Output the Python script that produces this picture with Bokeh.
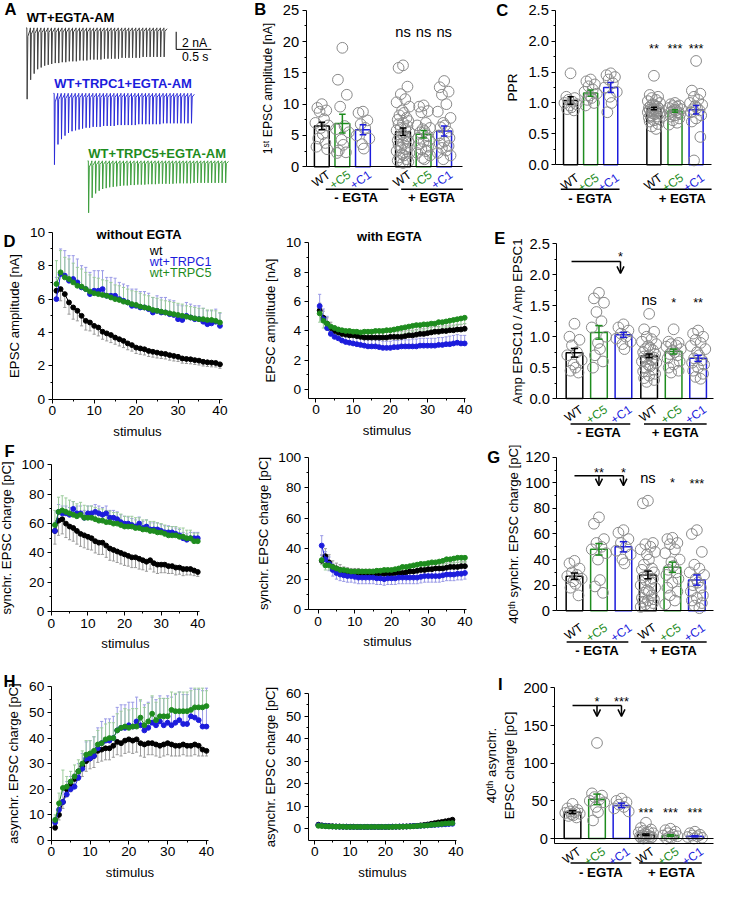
import numpy as np
from bokeh.plotting import figure
from bokeh.models import Range1d, Label, Arrow, OpenHead, FixedTicker, PrintfTickFormatter
from bokeh.layouts import column, row
from bokeh.embed import file_html
from bokeh.resources import INLINE

# ------------------------------------------------------------------ data
# Panel A: example traces, EPSC peak amplitudes (nA) for 40 stimuli at 20 Hz
TRACE_WT = [8.1, 5.9, 5.2, 4.7, 4.5, 4.3, 4.2, 4.1, 4.0, 4.0, 3.9, 3.9, 3.8, 3.8, 3.8, 3.7, 3.7, 3.7, 3.6, 3.6,
            3.6, 3.6, 3.5, 3.5, 3.5, 3.5, 3.5, 3.4, 3.4, 3.4, 3.4, 3.4, 3.4, 3.3, 3.3, 3.3, 3.3, 3.3, 3.3, 3.3]
TRACE_C1 = [8.1, 5.8, 5.2, 4.8, 4.5, 4.3, 4.2, 4.1, 4.0, 3.9, 3.9, 3.8, 3.8, 3.8, 3.7, 3.7, 3.7, 3.7, 3.6, 3.6,
            3.6, 3.6, 3.6, 3.6, 3.5, 3.5, 3.5, 3.5, 3.5, 3.5, 3.5, 3.4, 3.4, 3.4, 3.4, 3.4, 3.4, 3.4, 3.4, 3.4]
TRACE_C5 = [5.9, 4.2, 3.7, 3.4, 3.2, 3.1, 3.0, 2.95, 2.9, 2.85, 2.8, 2.8, 2.75, 2.75, 2.7, 2.7, 2.7, 2.65, 2.65, 2.65,
            2.6, 2.6, 2.6, 2.6, 2.6, 2.55, 2.55, 2.55, 2.55, 2.55, 2.5, 2.5, 2.5, 2.5, 2.5, 2.5, 2.5, 2.5, 2.5, 2.5]
TRACE_NAMES = ["WT+EGTA-AM", "WT+TRPC1+EGTA-AM", "WT+TRPC5+EGTA-AM"]
ISI = 0.05          # s between stimuli
SCALE_NA = 2.0      # scale bar
SCALE_S = 0.5

# Panel D: EPSC amplitude [nA]
DL_WT = [6.5, 6.6, 6.3, 5.8, 5.5, 5.3, 5.0, 4.7, 4.6, 4.4, 4.3, 4.05, 3.95, 3.85, 3.7, 3.6, 3.5, 3.35, 3.25, 3.1,
         3.05, 3.0, 2.9, 2.85, 2.8, 2.75, 2.72, 2.65, 2.6, 2.55, 2.45, 2.42, 2.4, 2.35, 2.32, 2.25, 2.22, 2.2, 2.18, 2.1]
DL_WT_E = [0.5, 0.7, 0.8, 0.7, 0.7, 0.6, 0.6, 0.55, 0.5, 0.5, 0.5, 0.45, 0.45, 0.45, 0.4, 0.4, 0.4, 0.38, 0.36, 0.35,
           0.35, 0.34, 0.33, 0.32, 0.32, 0.3, 0.3, 0.3, 0.3, 0.28, 0.28, 0.27, 0.27, 0.26, 0.26, 0.25, 0.25, 0.25, 0.24, 0.24]
DL_C1 = [6.0, 7.5, 7.4, 7.1, 7.2, 7.0, 6.7, 6.6, 6.3, 6.5, 6.5, 6.6, 6.2, 6.2, 6.2, 6.0, 5.9, 5.8, 5.6, 5.6,
         5.5, 5.5, 5.4, 5.2, 5.3, 5.2, 5.2, 5.1, 5.05, 4.8, 4.75, 5.0, 4.9, 4.8, 4.8, 4.65, 4.5, 4.55, 4.65, 4.4]
DL_C1_E = [1.3, 1.5, 1.5, 1.5, 1.4, 1.4, 1.3, 1.3, 1.3, 1.2, 1.2, 1.1, 1.1, 1.1, 1.05, 1.0, 1.0, 1.0, 1.0, 1.0,
           0.95, 0.95, 0.95, 0.9, 0.9, 0.9, 0.9, 0.85, 0.85, 0.85, 0.85, 0.8, 0.8, 0.8, 0.8, 0.8, 0.8, 0.75, 0.75, 0.75]
DL_C5 = [6.9, 7.6, 7.3, 7.2, 7.0, 6.8, 6.75, 6.6, 6.45, 6.35, 6.3, 6.25, 6.2, 6.1, 6.0, 5.95, 5.85, 5.8, 5.7, 5.65,
         5.55, 5.5, 5.45, 5.35, 5.3, 5.25, 5.2, 5.15, 5.1, 5.05, 5.0, 4.95, 4.9, 4.85, 4.8, 4.8, 4.75, 4.75, 4.7, 4.6]
DL_C5_E = [1.4, 1.3, 1.2, 1.2, 1.15, 1.1, 1.05, 1.0, 1.0, 0.95, 0.95, 0.9, 0.9, 0.9, 0.85, 0.85, 0.85, 0.8, 0.8, 0.8,
           0.8, 0.75, 0.75, 0.75, 0.75, 0.7, 0.7, 0.7, 0.7, 0.7, 0.7, 0.65, 0.65, 0.65, 0.65, 0.65, 0.6, 0.6, 0.6, 0.6]

DR_WT = [5.4, 4.9, 4.5, 4.2, 4.0, 3.9, 3.8, 3.75, 3.7, 3.7, 3.65, 3.6, 3.55, 3.55, 3.55, 3.55, 3.55, 3.55, 3.55, 3.6,
         3.6, 3.6, 3.6, 3.65, 3.7, 3.7, 3.75, 3.8, 3.8, 3.85, 3.9, 3.95, 3.95, 4.0, 4.0, 4.05, 4.05, 4.1, 4.1, 4.15]
DR_WT_E = [0.5, 0.45, 0.4, 0.4] + [0.35] * 36
DR_C1 = [5.7, 4.8, 4.2, 3.8, 3.6, 3.5, 3.35, 3.25, 3.2, 3.15, 3.1, 3.05, 3.0, 2.95, 2.95, 2.95, 2.9, 2.85, 2.85, 2.85,
         2.9, 2.9, 2.95, 2.95, 2.95, 2.95, 2.95, 3.0, 3.0, 3.0, 3.0, 3.0, 3.05, 3.05, 3.1, 3.1, 3.15, 3.2, 3.15, 3.15]
DR_C1_E = [0.8, 0.7, 0.8, 0.6, 0.55, 0.5, 0.5, 0.45, 0.45, 0.45, 0.45, 0.45, 0.45, 0.45, 0.45, 0.45, 0.45, 0.45, 0.45, 0.45,
           0.45, 0.45, 0.45, 0.45, 0.45, 0.5, 0.5, 0.5, 0.5, 0.5, 0.5, 0.5, 0.5, 0.5, 0.5, 0.55, 0.55, 0.55, 0.55, 0.55]
DR_C5 = [5.2, 4.7, 4.5, 4.3, 4.2, 4.1, 4.05, 4.0, 4.0, 3.95, 3.95, 3.9, 3.95, 3.95, 3.95, 4.0, 4.0, 4.0, 4.05, 4.05,
         4.1, 4.15, 4.2, 4.25, 4.3, 4.35, 4.4, 4.4, 4.45, 4.45, 4.5, 4.5, 4.6, 4.6, 4.65, 4.7, 4.75, 4.8, 4.85, 4.9]
DR_C5_E = [0.6, 0.5, 0.45] + [0.4] * 37

# Panel F: synchronous EPSC charge [pC]
FL_WT = [55, 62, 63, 60, 58, 57, 55, 53, 52, 51, 50, 48, 47, 47, 45, 43, 42, 41, 40, 39,
         38, 37, 37, 36, 35, 34, 35, 33, 32, 32, 32, 31, 31, 30, 30, 29, 29, 29, 28, 27]
FL_WT_E = [9, 10, 10, 9.5, 9, 9, 9, 8.5, 8.5, 8.5, 8, 8, 8, 8, 8, 8, 7.5, 7.5, 7.5, 7.5,
           7, 7, 7, 7, 6.5, 6.5, 6, 6, 6, 5.5, 5.5, 5, 5, 5, 4.5, 4.5, 4, 4, 3.5, 3]
FL_C1 = [55, 68, 67, 67, 66, 70, 67, 67, 64, 67, 67, 68, 67, 66, 67, 64, 64, 63, 61, 60,
         60, 59, 58, 60, 57, 58, 56, 56, 56, 55, 54, 54, 54, 53, 52, 50, 49, 50, 50, 50]
FL_C1_E = [6] + [5] * 19 + [4.5] * 12 + [4] * 8
FL_C5 = [59, 68, 69, 68, 67, 66, 65, 66, 64, 64, 64, 63, 62, 62, 61, 61, 60, 60, 59, 58,
         58, 58, 57, 57, 56, 56, 55, 55, 54, 54, 53, 52, 52, 52, 51, 51, 50, 50, 48, 48]
FL_C5_E = [10, 10, 10, 9.5, 9, 9, 8.5, 8.5, 8.5, 8, 8, 8, 8, 8, 8, 7.5, 7.5, 7.5, 7.5, 7,
           7, 7, 7, 7, 6.5, 6.5, 6.5, 6.5, 6.5, 6, 6, 6, 6, 6, 6, 6, 5.5, 5.5, 5.5, 5.5]

FR_WT = [32, 35, 31, 28, 27, 26, 25, 24.5, 24, 24, 24, 23.5, 23.5, 23.5, 23.5, 23.5, 23.5, 23.5, 23.5, 23.5,
         24, 24, 24, 24.5, 25, 25, 25.5, 26, 26, 26.5, 26.5, 27, 27, 27, 27.5, 28, 28, 28, 28.5, 28.5]
FR_WT_E = [4, 5, 5, 4, 3.5, 3.5] + [3] * 34
FR_C1 = [42, 33, 30, 26, 24, 23, 22.5, 22, 22, 21.5, 21, 21, 21, 21, 21, 20.5, 20.5, 20, 20.5, 20.5,
         20.5, 21, 21, 21, 21, 21, 21, 21.5, 22, 22, 22, 22, 22, 22.5, 23, 23, 23, 23.5, 23.5, 24]
FR_C1_E = [6.5, 5, 4.5] + [4] * 37
FR_C5 = [32.5, 29, 29, 28, 27, 26, 26, 25.5, 25, 25, 25, 25, 25, 25, 25, 25.5, 25.5, 26, 26, 26,
         26.5, 27, 28, 28, 28.5, 29, 29.5, 30, 30, 30.5, 31, 31, 31.5, 32, 33, 33, 33.5, 34, 34, 34]
FR_C5_E = [3] * 40

# Panel H: asynchronous EPSC charge [pC]
HL_WT = [5, 10, 15, 20, 22, 24, 27, 29, 31, 32, 33, 35, 35.5, 36, 36, 37, 38.5, 38, 39, 39.5,
         39, 39.5, 38, 37.5, 38, 38, 37.5, 37, 37.5, 38, 37.5, 37, 37, 37.5, 37, 37, 37.5, 37, 35.5, 35]
HL_WT_E = [1, 2, 2.5, 3, 3, 3, 3.5, 4, 4, 4, 4.5, 4.5, 4.5, 4.5, 4.5, 4.5, 5, 5, 5, 5,
           5, 5, 5, 5, 4.5, 4.5, 4.5, 4.5, 4.5, 4.5, 4.5, 4, 4, 4, 4, 4, 4, 4, 2.5, 2]
HL_C1 = [7, 12, 15, 18, 20, 21, 24.5, 28, 32, 32, 33, 36, 38, 39, 39, 40, 43, 44, 44, 45,
         44.5, 46.5, 45, 43, 44, 46, 45, 46.5, 45, 46, 45, 46, 47, 45.5, 45.5, 48.5, 48, 47, 44.5, 44.5]
HL_C1_E = [2, 3, 4, 5, 5, 5, 5.5, 6, 6.5, 7, 7.5, 8, 8.5, 8.5, 8.5, 8.5, 9, 9, 9, 9,
           9.5, 9.5, 9.5, 10, 10, 10, 10, 10, 10.5, 10.5, 11, 11, 11, 11.5, 11.5, 11, 11, 12, 14, 15]
HL_C5 = [8, 14.5, 20.5, 21, 23, 25, 27, 30, 33.5, 34, 35, 37.5, 38, 39.5, 40, 40, 43, 44, 44.5, 44,
         44.5, 44.5, 48, 45, 46.5, 49.5, 47, 48.5, 48.5, 48.5, 51, 50.5, 50.5, 50.5, 50.5, 51, 52, 52, 52, 52.5]
HL_C5_E = [2, 4, 7, 4, 4, 4.5, 4.5, 5, 5.5, 5, 5.5, 5.5, 6, 6, 6, 6, 6.5, 6.5, 7, 7,
           7, 7, 7, 7, 7, 7, 7, 7, 7, 7, 7, 7, 7.5, 7.5, 7.5, 7.5, 7.5, 7.5, 7.5, 6]

HR_WT = [1.8, 1.5, 1.3, 1.2, 1.1, 1.0, 1.0, 0.9, 0.9, 0.9, 0.9, 0.8, 0.8, 0.8, 0.8, 0.8, 0.8, 0.8, 0.8, 0.8,
         0.8, 0.9, 0.9, 0.9, 1.0, 1.0, 1.1, 1.2, 1.3, 1.5, 1.7, 1.9, 2.2, 2.5, 2.8, 3.0, 3.3, 3.6, 4.0]
HR_C1 = [1.6, 1.4, 1.2, 1.1, 1.0, 1.0, 0.9, 0.9, 0.9, 0.8, 0.8, 0.8, 0.8, 0.8, 0.8, 0.8, 0.8, 0.8, 0.8, 0.8,
         0.9, 0.9, 0.9, 1.0, 1.0, 1.0, 1.1, 1.2, 1.2, 1.3, 1.4, 1.5, 1.6, 1.7, 1.8, 1.9, 2.0, 2.1, 2.2]
HR_C5 = [1.3, 1.2, 1.1, 1.0, 1.0, 0.9, 0.9, 0.9, 0.8, 0.8, 0.8, 0.8, 0.8, 0.8, 0.8, 0.8, 0.8, 0.8, 0.8, 0.8,
         0.8, 0.8, 0.9, 0.9, 0.9, 1.0, 1.0, 1.1, 1.2, 1.3, 1.4, 1.5, 1.7, 1.8, 2.0, 2.1, 2.3, 2.4, 2.5]
HR_E = [0.5] * 39

# Bar charts: order WT, +C5, +C1 (- EGTA), WT, +C5, +C1 (+ EGTA)
CATS = ["WT", "+C5", "+C1", "WT", "+C5", "+C1"]
GROUPS = ["- EGTA", "+ EGTA"]

B_MEANS = [6.5, 6.9, 5.9, 5.6, 5.2, 5.7]
B_ERRS = [0.6, 1.5, 0.8, 0.6, 0.6, 0.8]
B_PTS = [
    [10.0, 9.4, 9.0, 8.8, 7.6, 7.0, 6.6, 6.2, 5.2, 4.5, 3.8, 3.2, 2.8],
    [19.0, 13.9, 11.5, 9.6, 6.5, 6.0, 5.5, 4.3, 3.5, 2.6, 2.3, 2.2],
    [8.8, 8.6, 7.4, 6.8, 6.2, 5.0, 4.5, 3.6, 2.9],
    [16.2, 15.8, 12.8, 11.6, 10.8, 10.3, 9.6, 9.0, 8.6, 8.2, 7.8, 7.5, 7.3, 7.0, 6.8, 6.5, 6.2, 6.0, 5.8, 5.5,
     5.2, 5.0, 4.8, 4.5, 4.2, 4.0, 3.8, 3.5, 3.2, 3.0, 2.8, 2.5, 2.2, 2.0, 1.8, 1.5, 1.2, 1.0, 0.8, 0.6],
    [9.8, 9.6, 8.9, 8.7, 7.0, 6.6, 6.2, 6.0, 5.7, 5.5, 5.0, 4.6, 4.2, 4.0, 3.6, 3.2, 2.8, 2.5, 2.2, 1.8, 1.4, 1.2],
    [13.7, 12.7, 12.0, 11.5, 10.0, 8.8, 7.8, 7.0, 6.6, 6.3, 5.6, 5.0, 4.6, 4.0, 3.7, 3.3, 3.0, 2.6, 2.2, 1.8, 1.2],
]
B_SIG = ["ns", "ns", "ns"]

C_MEANS = [1.04, 1.16, 1.25, 0.91, 0.87, 0.89]
C_ERRS = [0.06, 0.05, 0.08, 0.02, 0.02, 0.07]
C_PTS = [
    [1.48, 1.10, 1.08, 1.05, 1.02, 1.00, 0.98, 0.96, 0.93, 0.90, 0.88],
    [1.38, 1.35, 1.30, 1.27, 1.22, 1.18, 1.15, 1.12, 1.08, 1.05, 1.00, 0.96],
    [1.48, 1.45, 1.42, 1.38, 1.32, 1.25, 1.18, 1.10, 1.00, 0.85],
    [1.44, 1.13, 1.10, 1.08, 1.05, 1.03, 1.0, 0.98, 0.96, 0.95, 0.94, 0.92, 0.91, 0.90, 0.89, 0.88, 0.87, 0.86,
     0.85, 0.84, 0.83, 0.82, 0.80, 0.78, 0.76, 0.74, 0.72, 0.70, 0.66, 0.62, 0.58],
    [1.00, 0.98, 0.96, 0.95, 0.94, 0.92, 0.90, 0.89, 0.88, 0.86, 0.85, 0.84, 0.82, 0.80, 0.78, 0.75, 0.72, 0.68, 0.65],
    [1.68, 1.20, 1.15, 1.10, 1.05, 1.00, 0.97, 0.95, 0.92, 0.90, 0.88, 0.85, 0.80, 0.75, 0.70, 0.45, 0.07],
]
C_SIG = ["**", "***", "***"]

E_MEANS = [0.74, 1.07, 1.03, 0.69, 0.76, 0.65]
E_ERRS = [0.07, 0.11, 0.04, 0.03, 0.04, 0.05]
E_PTS = [
    [1.21, 1.00, 0.95, 0.86, 0.75, 0.70, 0.62, 0.55, 0.50, 0.45, 0.42],
    [1.71, 1.62, 1.55, 1.40, 1.25, 1.15, 1.00, 0.90, 0.80, 0.70, 0.60, 0.50],
    [1.20, 1.15, 1.10, 1.05, 1.00, 0.97, 0.92, 0.88, 0.80],
    [1.37, 1.12, 1.08, 1.00, 0.96, 0.92, 0.88, 0.85, 0.82, 0.80, 0.78, 0.75, 0.72, 0.70, 0.68, 0.66, 0.64, 0.62,
     0.60, 0.58, 0.55, 0.52, 0.50, 0.47, 0.44, 0.40, 0.37, 0.33, 0.30, 0.27],
    [1.12, 0.92, 0.90, 0.88, 0.86, 0.84, 0.80, 0.78, 0.75, 0.72, 0.70, 0.65, 0.60, 0.55, 0.50, 0.45, 0.42],
    [1.10, 1.05, 1.00, 0.95, 0.90, 0.85, 0.80, 0.75, 0.70, 0.65, 0.62, 0.58, 0.55, 0.50, 0.45, 0.40, 0.35, 0.32],
]
E_SIG = ["ns", "*", "**"]
E_BRACKET = ["*"]

G_MEANS = [27, 48, 50, 28, 34, 24]
G_ERRS = [2.5, 4.5, 4, 3, 4, 4]
G_PTS = [
    [39, 37, 33, 30, 28, 27, 25, 23, 21, 18, 12],
    [73, 68, 56, 53, 50, 48, 45, 40, 24, 19, 14],
    [63, 61, 56, 53, 50, 47, 44, 40, 37],
    [86, 84, 53, 52, 50, 48, 46, 44, 40, 36, 33, 32, 30, 28, 26, 25, 24, 22, 20, 18, 16, 15, 14, 12, 10, 9, 8, 7, 6, 5, 4, 3],
    [57, 56, 53, 52, 48, 45, 40, 38, 35, 32, 30, 28, 25, 22, 18, 15, 12, 8, 5],
    [63, 60, 46, 36, 33, 30, 28, 25, 22, 20, 18, 15, 12, 10, 8, 6, 4, 2],
]
G_SIG = ["ns", "*", "***"]
G_BRACKET = ["**", "*"]

I_MEANS = [35, 52, 44, 5, 4, 3]
I_ERRS = [2, 7, 3, 1, 1, 0.8]
I_PTS = [
    [46, 40, 38, 36, 35, 34, 33, 32, 31, 30, 28],
    [127, 60, 57, 55, 52, 50, 48, 42, 35, 24],
    [53, 50, 48, 45, 42, 40, 36],
    [21, 14, 12, 10, 9, 8, 7, 6, 5, 4, 3, 3, 2, 2, 1, 1, 0],
    [13, 11, 9, 7, 5, 4, 3, 2, 1, 0],
    [9, 7, 5, 4, 3, 2, 1, 0],
]
I_SIG = ["***", "***", "***"]
I_BRACKET = ["*", "***"]

# ------------------------------------------------------------------ style
S = 0.978
FONT = "Liberation Sans"
BLACK, GREEN, BLUE = "#000000", "#1e8c1e", "#1c1cdc"
LBLACK, LGREEN, LBLUE = "#9a9a9a", "#9ccc9c", "#9a9ae6"
CAT_COLORS = [BLACK, GREEN, BLUE, BLACK, GREEN, BLUE]
PT_COLOR = "#8a8a8a"
JIT = [0.0, -0.5, 0.5, -0.25, 0.25, -0.72, 0.72, -0.1, 0.1, -0.4, 0.4, -0.6, 0.6]


def R(v):
    return int(round(v * S))


def FS(v):
    return "%.1fpx" % (v * S)


class Panel:
    """A figure whose frame fills its whole cell; the axes sit at fixed data locations
    so that the axes box lands on `box` (reference pixel coordinates)."""

    def __init__(self, cell, box, xr, yr, axes=True):
        self.box, self.xr, self.yr = box, xr, yr
        cx0, cy0, cx1, cy1 = cell
        fx0, fy0, fx1, fy1 = box
        self.kx = (xr[1] - xr[0]) / (fx1 - fx0)
        self.ky = (yr[1] - yr[0]) / (fy1 - fy0)
        full_x = (self.X(cx0), self.X(cx1))
        full_y = (self.Y(cy1), self.Y(cy0))
        kw = {}
        if not axes:
            kw = dict(x_axis_location=None, y_axis_location=None)
        p = figure(width=R(cx1) - R(cx0), height=R(cy1) - R(cy0),
                   x_range=Range1d(*full_x), y_range=Range1d(*full_y),
                   min_border=0, min_border_left=0, min_border_right=0, min_border_top=0, min_border_bottom=0,
                   output_backend="svg", toolbar_location=None, **kw)
        p.outline_line_color = None
        p.xgrid.visible = False
        p.ygrid.visible = False
        if axes:
            p.xaxis[0].fixed_location = yr[0]
            p.xaxis[0].bounds = xr
            p.yaxis[0].fixed_location = xr[0]
            p.yaxis[0].bounds = yr
        self.p = p

    def X(self, px):
        return self.xr[0] + (px - self.box[0]) * self.kx

    def Y(self, py):
        return self.yr[1] - (py - self.box[1]) * self.ky

    def ux(self, d):
        return d * self.kx

    def text(self, x, y, s, size, color=BLACK, bold=False, align="center", baseline="middle", angle=0.0):
        self.p.add_layout(Label(x=x, y=y, text=s, text_font=FONT, text_font_size=FS(size),
                                text_color=color, text_font_style="bold" if bold else "normal",
                                text_align=align, text_baseline=baseline, angle=angle))

    def letter(self, px, py, s):
        self.text(self.X(px), self.Y(py), s, 17, bold=True, align="left")


def style_axis(ax, label, ticks, minor, tick_size, label_size, fmt=None, label_standoff=5):
    ax.ticker = FixedTicker(ticks=ticks, minor_ticks=minor)
    if fmt:
        ax.formatter = PrintfTickFormatter(format=fmt)
    ax.axis_label = label
    ax.axis_label_text_font = FONT
    ax.axis_label_text_font_style = "normal"
    ax.axis_label_text_font_size = FS(label_size)
    ax.axis_label_text_color = BLACK
    ax.major_label_text_font = FONT
    ax.major_label_text_font_size = FS(tick_size)
    ax.major_label_text_color = BLACK
    ax.axis_line_color = BLACK
    ax.major_tick_line_color = BLACK
    ax.minor_tick_line_color = BLACK
    ax.major_tick_in = 0
    ax.major_tick_out = 4
    ax.minor_tick_in = 0
    ax.minor_tick_out = 2
    ax.major_label_standoff = 3
    ax.axis_label_standoff = label_standoff


def line_panel(cell, box, xr, yr, yticks, yminor, ylabel, series):
    P = Panel(cell, box, xr, yr)
    p = P.p
    style_axis(p.xaxis[0], "stimulus", [0, 10, 20, 30, 40], [5, 15, 25, 35], 14, 13.5)
    style_axis(p.yaxis[0], ylabel, yticks, yminor, 14, 13.5)
    cap = P.ux(1.6)
    for vals, errs, mode, col, lcol in series:
        x = np.arange(1, len(vals) + 1)
        v = np.array(vals, dtype=float)
        e = np.array(errs, dtype=float)
        lo = v - e if mode in ("down", "both") else v
        hi = v + e if mode in ("up", "both") else v
        p.segment(x, lo, x, hi, line_color=lcol, line_width=1)
        if mode in ("up", "both"):
            p.segment(x - cap, hi, x + cap, hi, line_color=lcol, line_width=1)
        if mode in ("down", "both"):
            p.segment(x - cap, lo, x + cap, lo, line_color=lcol, line_width=1)
    for vals, errs, mode, col, lcol in series:
        x = np.arange(1, len(vals) + 1)
        p.line(x, vals, line_color=col, line_width=1)
        p.scatter(x, vals, size=5.0 * S, fill_color=col, line_color=col)
    return P


def bar_panel(cell, box, xr, yr, yticks, yminor, fmt, ylabel, pos, means, errs, pts, barw, groups,
              label_size=13, label_standoff=5, cat_gap=1):
    P = Panel(cell, box, xr, yr)
    p = P.p
    style_axis(p.yaxis[0], ylabel, yticks, yminor, 15, label_size, fmt, label_standoff)
    xa = p.xaxis[0]
    xa.ticker = FixedTicker(ticks=[])
    xa.major_label_text_font_size = "0px"
    xa.axis_line_color = BLACK
    xa.major_tick_line_color = None
    xa.minor_tick_line_color = None
    p.vbar(x=pos, top=means, bottom=0, width=barw, fill_color="white", line_color=CAT_COLORS, line_width=1.5)
    for i, vals in enumerate(pts):
        xs = [pos[i] + JIT[k % len(JIT)] * barw * 0.6 for k in range(len(vals))]
        p.scatter(xs, vals, size=11 * S, fill_color=None, line_color=PT_COLOR, line_width=1)
    m = np.array(means, dtype=float)
    e = np.array(errs, dtype=float)
    ps = np.array(pos, dtype=float)
    cw = barw * 0.22
    p.segment(ps, m - e, ps, m + e, line_color=CAT_COLORS, line_width=1.5)
    p.segment(ps - cw, m - e, ps + cw, m - e, line_color=CAT_COLORS, line_width=1.5)
    p.segment(ps - cw, m + e, ps + cw, m + e, line_color=CAT_COLORS, line_width=1.5)
    ybot = box[3]
    for i, c in enumerate(CATS):
        P.text(pos[i] + P.ux(3), P.Y(ybot + cat_gap), c, 12.4, color=CAT_COLORS[i], align="right",
               baseline="top", angle=np.deg2rad(35))
    for (gx0, gx1, gy, tx, ty), g in zip(groups, GROUPS):
        p.segment([P.X(gx0)], [P.Y(gy)], [P.X(gx1)], [P.Y(gy)], line_color=BLACK, line_width=1.5)
        P.text(P.X(tx), P.Y(ty), g, 13.5, bold=True)
    return P


def bracket(P, x0, x1, y, arrow_x, tip_y, stars, star_y):
    P.p.segment([x0], [y], [x1], [y], line_color=BLACK, line_width=1.5)
    for xa, st in zip(arrow_x, stars):
        P.p.add_layout(Arrow(end=OpenHead(size=7, line_width=1.5, line_color=BLACK), x_start=xa, y_start=y,
                             x_end=xa, y_end=tip_y, line_color=BLACK, line_width=1.5))
        P.text(xa, star_y, st, 13)


# ------------------------------------------------------------------ Panel A
PA = Panel((0, 0, 250, 225), (0, 0, 250, 225), (0, 250 / 72), (-225 / 9, 0), axes=False)
for amps, name, col, tcol, (lx, ly, bx, by) in [
        (TRACE_WT, TRACE_NAMES[0], "#404040", BLACK, (27, 17, 27, 28)),
        (TRACE_C1, TRACE_NAMES[1], "#2c2cd8", BLUE, (55, 85, 55, 95)),
        (TRACE_C5, TRACE_NAMES[2], "#3f9f3f", GREEN, (90, 156, 90, 164))]:
    t0, base = PA.X(bx), PA.Y(by)
    xs, ys = [t0 - 0.01], [base]
    for i, a in enumerate(amps):
        t = t0 + i * ISI
        xs += [t, t + 0.004, t + 0.014, t + ISI * 0.9]
        ys += [base, base - a, base - 0.12 * a, base - 0.03 * a]
    PA.p.line(xs, ys, line_color=col, line_width=1)
    PA.text(PA.X(lx), PA.Y(ly), name, 13.3, color=tcol, bold=True, align="left")
sbx, sby = PA.X(180), PA.Y(50)
PA.p.segment([sbx, sbx], [sby, sby], [sbx, sbx + SCALE_S], [sby + SCALE_NA, sby], line_color=BLACK, line_width=1)
PA.text(PA.X(186), PA.Y(43), "2 nA", 12.5, align="left")
PA.text(PA.X(186), PA.Y(58), "0.5 s", 12.5, align="left")
PA.letter(4, 9, "A")

# ------------------------------------------------------------------ Panel B / C
B_POS = [1, 2, 3, 4.95, 5.95, 6.95]
PB = bar_panel((250, 0, 490, 225), (313, 10, 473, 170), (0.24, 7.86), (0, 25),
               [0, 5, 10, 15, 20, 25], [2.5, 7.5, 12.5, 17.5, 22.5], None, "1ˢᵗ EPSC amplitude [nA]",
               B_POS, B_MEANS, B_ERRS, B_PTS, 0.72,
               [(333, 397, 193, 364, 201), (410, 473, 193, 441, 201)], label_size=12.5, cat_gap=1)
for k, s in enumerate(B_SIG):
    PB.text(B_POS[3 + k], PB.Y(32), s, 15)
PB.letter(260, 9, "B")

C_POS = [1, 2, 3, 5.15, 6.2, 7.25]
PC = bar_panel((490, 0, 730, 225), (568, 10, 727, 168), (0.27, 8.02), (0, 2.5),
               [0, 0.5, 1.0, 1.5, 2.0, 2.5], [0.25, 0.75, 1.25, 1.75, 2.25], "%.1f", "PPR",
               C_POS, C_MEANS, C_ERRS, C_PTS, 0.7,
               [(573, 633, 193, 603, 202), (665, 727, 193, 697, 202)], label_size=14, cat_gap=6)
for k, s in enumerate(C_SIG):
    PC.text(C_POS[3 + k], PC.Y(50), s, 13)
PC.letter(507, 10, "C")

# ------------------------------------------------------------------ Panel D
PDL = line_panel((0, 225, 250, 450), (53, 237, 227, 408), (0, 40.5), (0, 10),
                 [0, 2, 4, 6, 8, 10], [1, 3, 5, 7, 9], "EPSC amplitude [nA]",
                 [(DL_WT, DL_WT_E, "down", BLACK, LBLACK), (DL_C1, DL_C1_E, "up", BLUE, LBLUE),
                  (DL_C5, DL_C5_E, "up", GREEN, LGREEN)])
PDL.text(PDL.X(142), PDL.Y(239), "without EGTA", 13.3, bold=True)
PDL.text(PDL.X(153), PDL.Y(256), "wt", 13, color=BLACK, align="left")
PDL.text(PDL.X(153), PDL.Y(267), "wt+TRPC1", 13, color=BLUE, align="left")
PDL.text(PDL.X(153), PDL.Y(279), "wt+TRPC5", 13, color=GREEN, align="left")
PDL.letter(3, 246, "D")

PDR = line_panel((250, 225, 490, 450), (315, 248, 476, 407), (-2.1, 40.3), (-0.6, 10),
                 [0, 2, 4, 6, 8, 10], [1, 3, 5, 7, 9], "EPSC amplitude [nA]",
                 [(DR_WT, DR_WT_E, "up", BLACK, LBLACK), (DR_C1, DR_C1_E, "up", BLUE, LBLUE),
                  (DR_C5, DR_C5_E, "down", GREEN, LGREEN)])
PDR.text(PDR.X(398), PDR.Y(241), "with EGTA", 13.3, bold=True)

# ------------------------------------------------------------------ Panel E
E_POS = [1, 2, 3, 4.05, 5.05, 6.05]
PE = bar_panel((490, 225, 730, 455), (569, 249, 729, 407), (0.28, 6.68), (0, 2.5),
               [0, 0.5, 1.0, 1.5, 2.0, 2.5], [0.25, 0.75, 1.25, 1.75, 2.25], "%.1f", "Amp EPSC10 / Amp EPSC1",
               E_POS, E_MEANS, E_ERRS, E_PTS, 0.68,
               [(583, 644, 433, 612, 442), (658, 722, 433, 690, 442)], label_size=13.5, label_standoff=1,
               cat_gap=4)
bracket(PE, E_POS[0] - PE.ux(3), E_POS[2] - PE.ux(3), PE.Y(267), [E_POS[2] - PE.ux(3)], PE.Y(279),
        E_BRACKET, PE.Y(262))
PE.text(E_POS[3], PE.Y(306), E_SIG[0], 15)
PE.text(E_POS[4], PE.Y(309), E_SIG[1], 13)
PE.text(E_POS[5], PE.Y(309), E_SIG[2], 13)
PE.letter(505, 243, "E")

# ------------------------------------------------------------------ Panel F
PFL = line_panel((0, 450, 250, 674), (52, 475, 204, 625), (0, 40.5), (0, 100),
                 [0, 20, 40, 60, 80, 100], [10, 30, 50, 70, 90], "synchr. EPSC charge [pC]",
                 [(FL_WT, FL_WT_E, "down", BLACK, LBLACK), (FL_C1, FL_C1_E, "up", BLUE, LBLUE),
                  (FL_C5, FL_C5_E, "up", GREEN, LGREEN)])
PFL.letter(4, 461, "F")
PFR = line_panel((250, 450, 490, 674), (315, 467, 477, 623), (-2.7, 40.5), (0, 100),
                 [0, 20, 40, 60, 80, 100], [10, 30, 50, 70, 90], "synchr. EPSC charge [pC]",
                 [(FR_WT, FR_WT_E, "up", BLACK, LBLACK), (FR_C1, FR_C1_E, "both", BLUE, LBLUE),
                  (FR_C5, FR_C5_E, "down", GREEN, LGREEN)])

# ------------------------------------------------------------------ Panel G
G_POS = [1, 2, 3, 4, 5, 6]
PG = bar_panel((490, 455, 730, 680), (569, 467, 729, 624), (0.28, 6.68), (0, 120),
               [0, 20, 40, 60, 80, 100, 120], [10, 30, 50, 70, 90, 110], None, "40ᵗʰ synchr. EPSC charge [pC]",
               G_POS, G_MEANS, G_ERRS, G_PTS, 0.68,
               [(579, 642, 656, 610, 665), (655, 722, 656, 688, 665)], label_size=13.5, label_standoff=1,
               cat_gap=10)
bracket(PG, G_POS[0], G_POS[2], PG.Y(486), [G_POS[1], G_POS[2]], PG.Y(496), G_BRACKET, PG.Y(483))
PG.text(G_POS[3], PG.Y(488), G_SIG[0], 15)
PG.text(G_POS[4], PG.Y(493), G_SIG[1], 13)
PG.text(G_POS[5], PG.Y(494), G_SIG[2], 13)
PG.letter(498, 467, "G")

# ------------------------------------------------------------------ Panel H
PHL = line_panel((0, 674, 250, 902), (52, 702, 213, 859), (0, 40.5), (0, 60),
                 [0, 10, 20, 30, 40, 50, 60], [5, 15, 25, 35, 45, 55], "asynchr. EPSC charge [pC]",
                 [(HL_WT, HL_WT_E, "down", BLACK, LBLACK), (HL_C1, HL_C1_E, "up", BLUE, LBLUE),
                  (HL_C5, HL_C5_E, "up", GREEN, LGREEN)])
PHL.letter(3, 696, "H")
PHR = line_panel((250, 674, 490, 902), (315, 709, 467, 859), (-1.9, 40.3), (-5.2, 60),
                 [0, 10, 20, 30, 40, 50, 60], [5, 15, 25, 35, 45, 55], "asynchr. EPSC charge [pC]",
                 [(HR_WT, HR_E, "up", BLACK, LBLACK), (HR_C1, HR_E, "up", BLUE, LBLUE),
                  (HR_C5, HR_E, "up", GREEN, LGREEN)])

# ------------------------------------------------------------------ Panel I
I_POS = [1, 2, 3, 4, 5, 6]
PI = bar_panel((490, 680, 730, 902), (567, 703, 729, 862), (0.28, 6.76), (-6.5, 200),
               [0, 50, 100, 150, 200], [25, 75, 125, 175], None, "40ᵗʰ asynchr.\nEPSC charge [pC]",
               I_POS, I_MEANS, I_ERRS, I_PTS, 0.68,
               [(583, 645, 882, 614, 892), (653, 717, 882, 686, 892)], label_size=13.5, label_standoff=3,
               cat_gap=1)
PI.p.segment([PI.xr[0]], [0], [PI.xr[1]], [0], line_color=BLACK, line_width=1)
bracket(PI, I_POS[0], I_POS[2], PI.Y(721), [I_POS[1], I_POS[2]], PI.Y(732), I_BRACKET, PI.Y(717))
for k, s in enumerate(I_SIG):
    PI.text(I_POS[3 + k], PI.Y(831), s, 13)
PI.letter(509, 699, "I")

# ------------------------------------------------------------------ layout
layout = row(column(PA.p, PDL.p, PFL.p, PHL.p),
             column(PB.p, PDR.p, PFR.p, PHR.p),
             column(PC.p, PE.p, PG.p, PI.p))

open("out.html", "w").write(file_html(layout, INLINE, "EPSC figure"))
